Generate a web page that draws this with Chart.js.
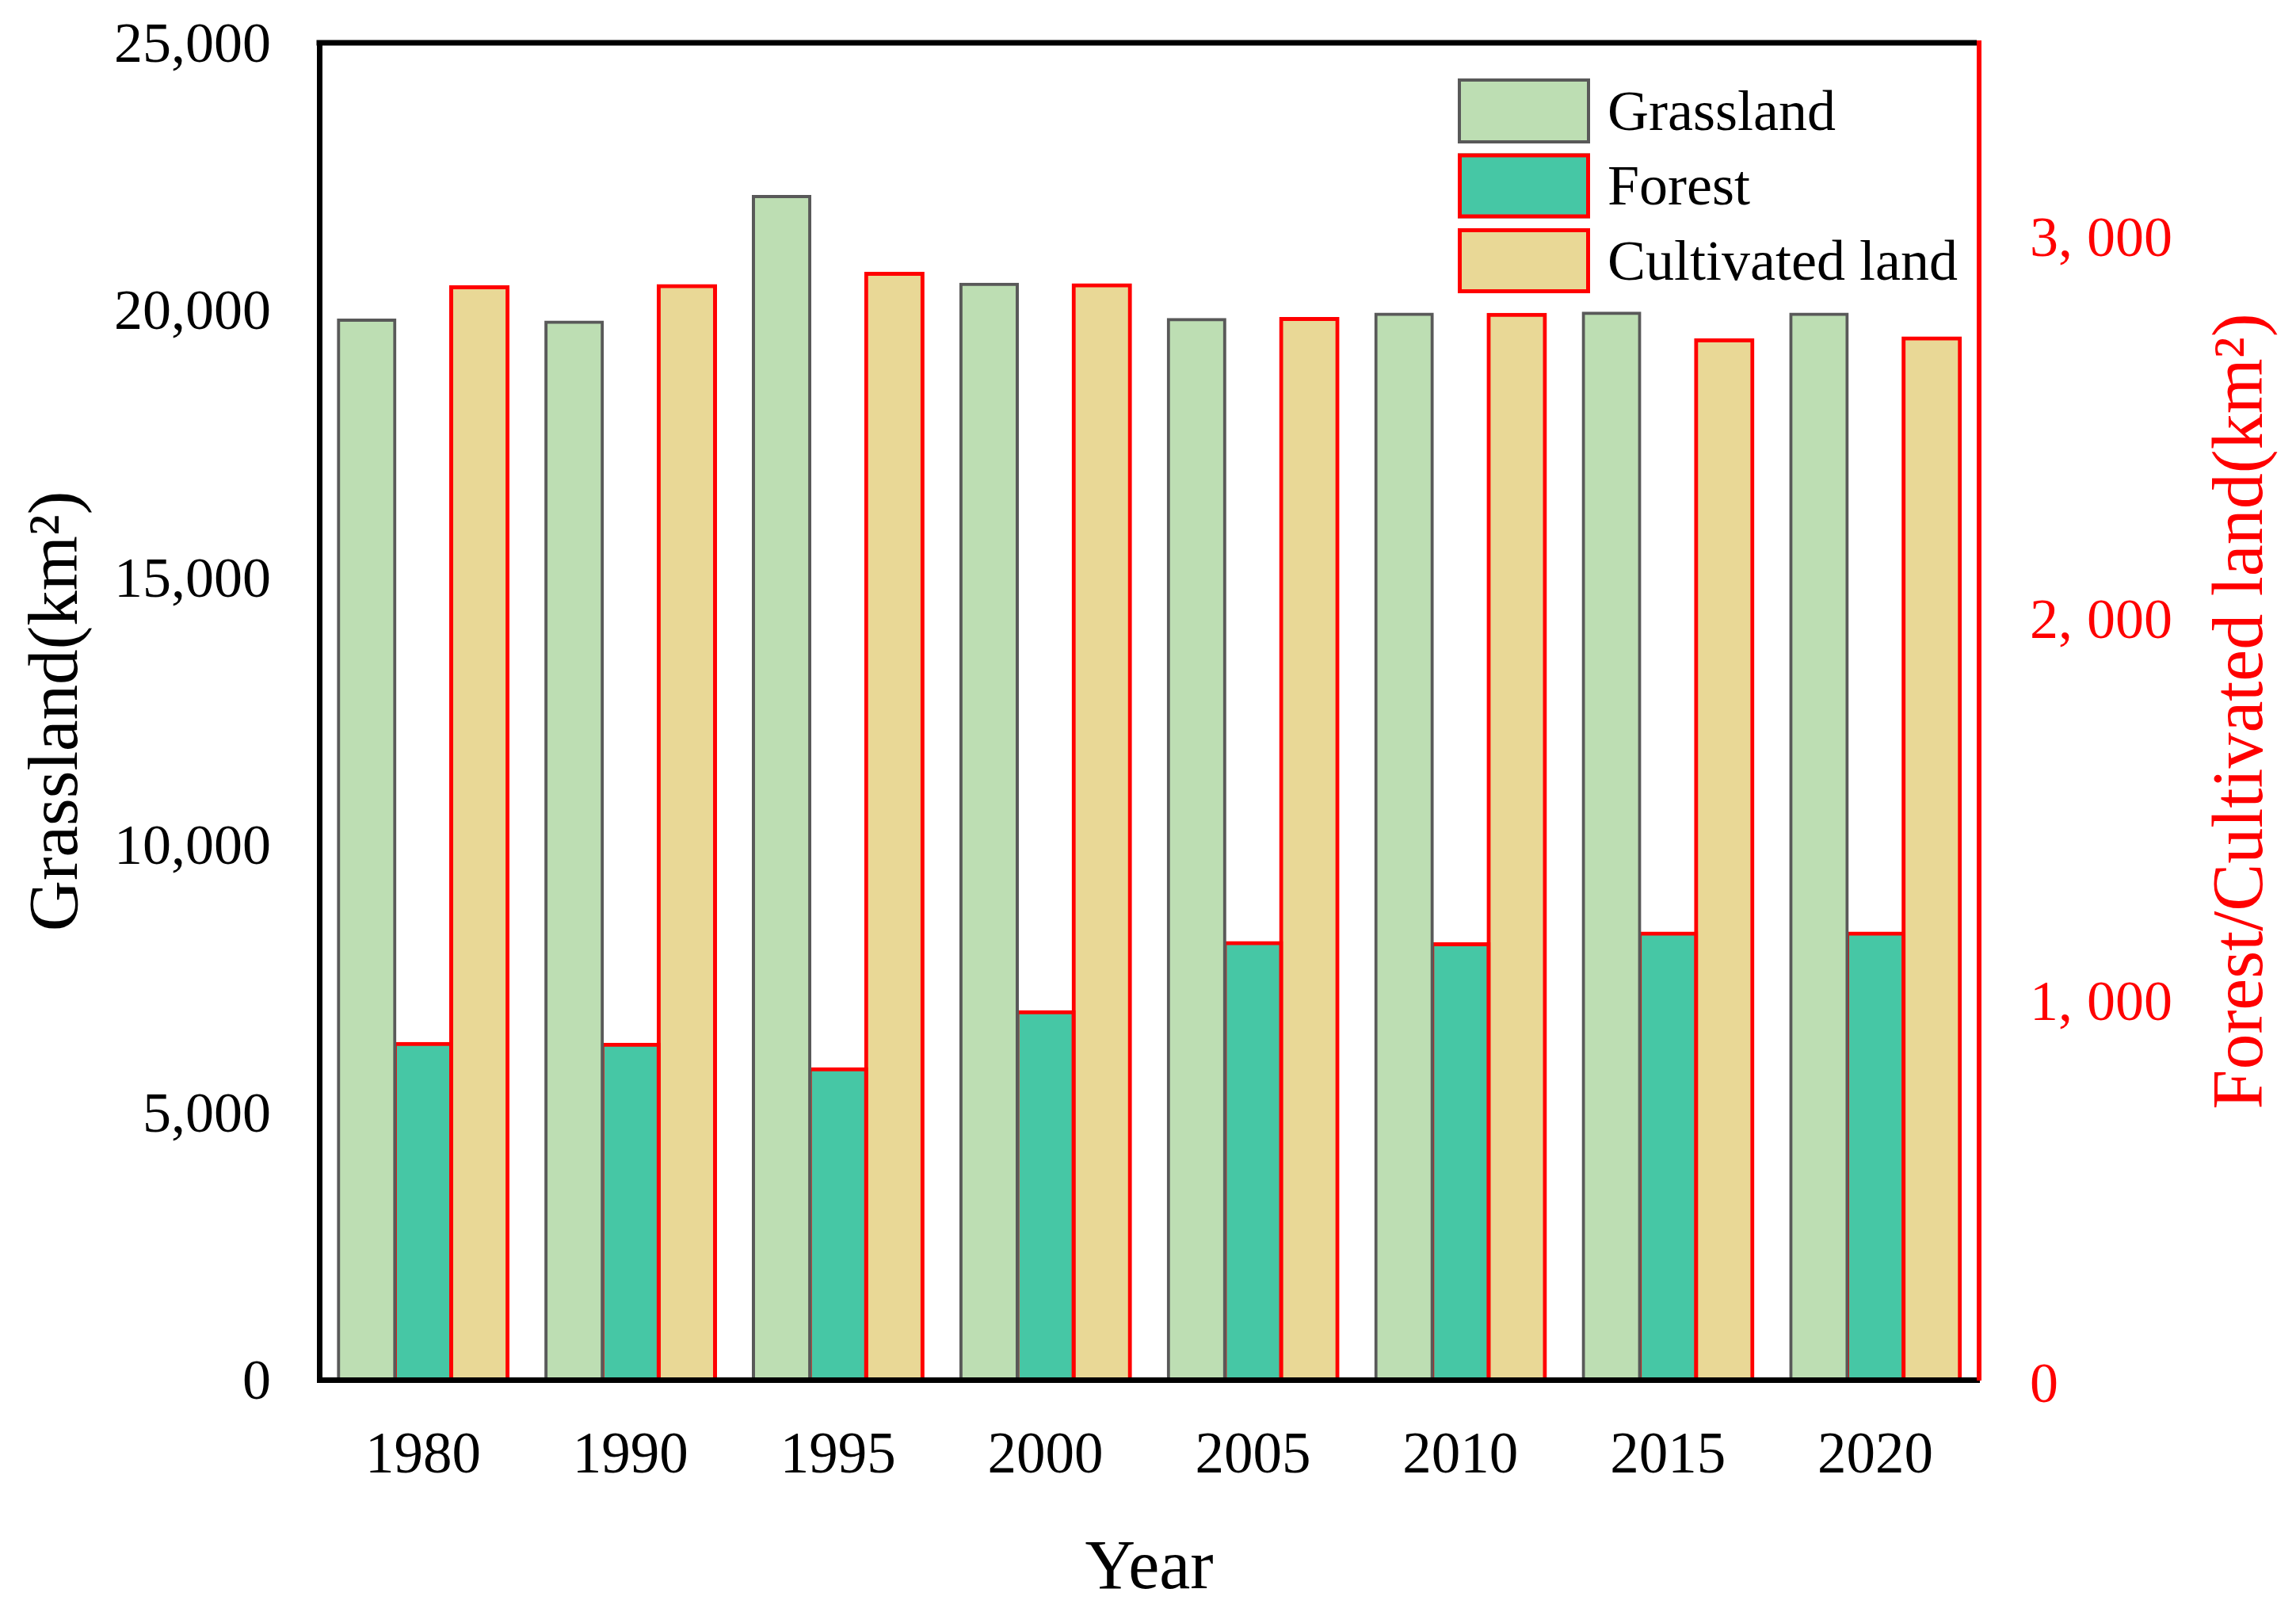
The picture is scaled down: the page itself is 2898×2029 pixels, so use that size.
<!DOCTYPE html>
<html>
<head>
    <title>Grassland, Forest and Cultivated land</title>
    <script src="https://cdn.jsdelivr.net/npm/chart.js"></script>
    <style>
        body { margin: 0; background: #fff; }
    </style>
</head>
<body>
    <canvas id="myChart" width="2898" height="2029" style="width:2898px;height:2029px"></canvas>

    <script>
        var years = ['1980', '1990', '1995', '2000', '2005', '2010', '2015', '2020'];
        var grassland = [19813, 19776, 22125, 20485, 19824, 19923, 19942, 19923];
        var forest = [879, 877, 813, 962, 1143, 1140, 1168, 1168];
        var cultivated = [2860, 2863, 2895, 2865, 2777, 2788, 2721, 2726];
        var leftTicks = [0, 5000, 10000, 15000, 20000, 25000];
        var rightTicks = [0, 1000, 2000, 3000];

        var serif = '"Liberation Serif", "Times New Roman", serif';
        var red = '#ff0000';

        var framePlugin = {
            id: 'frame',
            afterDraw: function (chart) {
                var ctx = chart.ctx;
                var a = chart.chartArea;
                ctx.save();

                // top edge of the frame
                ctx.strokeStyle = '#000';
                ctx.lineWidth = 7;
                ctx.beginPath();
                ctx.moveTo(a.left - 3.5, a.top);
                ctx.lineTo(a.right - 3, a.top);
                ctx.stroke();

                // right axis title, reads bottom to top
                ctx.save();
                ctx.translate(chart.scales.y1.right - 67, (a.top + a.bottom) / 2);
                ctx.rotate(-Math.PI / 2);
                ctx.font = '90px ' + serif;
                ctx.fillStyle = red;
                ctx.textAlign = 'center';
                ctx.textBaseline = 'middle';
                ctx.fillText('Forest/Cultivated land(km\u00b2)', 0, 0);
                ctx.restore();

                // legend inside the plot
                chart.data.datasets.forEach(function (ds, i) {
                    var bx = a.right - 658;
                    var by = a.top + 45 + i * 94.5;
                    var lw = ds.borderWidth;
                    ctx.fillStyle = ds.backgroundColor;
                    ctx.fillRect(bx, by, 167, 82);
                    ctx.strokeStyle = ds.borderColor;
                    ctx.lineWidth = lw;
                    ctx.strokeRect(bx + lw / 2, by + lw / 2, 167 - lw, 82 - lw);
                    ctx.fillStyle = '#000';
                    ctx.font = '72px ' + serif;
                    ctx.textAlign = 'left';
                    ctx.textBaseline = 'middle';
                    ctx.fillText(ds.label, a.right - 469, by + 46);
                });
                ctx.restore();
            }
        };

        function noPadding(scale) {
            scale.paddingTop = 0;
            scale.paddingBottom = 0;
            scale.paddingLeft = 0;
            scale.paddingRight = 0;
        }

        var ctx = document.getElementById('myChart').getContext('2d');
        var myChart = new Chart(ctx, {
            type: 'bar',
            data: {
                labels: years,
                datasets: [
                    {
                        label: 'Grassland',
                        data: grassland,
                        yAxisID: 'y',
                        backgroundColor: '#bddeb3',
                        borderColor: '#595959',
                        borderWidth: 4,
                        inflateAmount: 2
                    },
                    {
                        label: 'Forest',
                        data: forest,
                        yAxisID: 'y1',
                        backgroundColor: '#46c7a5',
                        borderColor: red,
                        borderWidth: 5,
                        inflateAmount: 2.5
                    },
                    {
                        label: 'Cultivated land',
                        data: cultivated,
                        yAxisID: 'y1',
                        backgroundColor: '#e9d896',
                        borderColor: red,
                        borderWidth: 5,
                        inflateAmount: 2.5
                    }
                ]
            },
            options: {
                responsive: false,
                animation: false,
                devicePixelRatio: 1,
                categoryPercentage: 0.815,
                barPercentage: 1,
                layout: { padding: { top: 54, left: 0, right: 0, bottom: 0 } },
                plugins: {
                    legend: { display: false },
                    tooltip: { enabled: false }
                },
                scales: {
                    x: {
                        grid: { display: false, drawTicks: false },
                        border: { display: true, color: '#000', width: 7, z: 1 },
                        ticks: { color: '#000', font: { family: serif, size: 73 }, padding: 54, maxRotation: 0 },
                        title: {
                            display: true, text: 'Year', color: '#000',
                            font: { family: serif, size: 88 }, padding: { top: 0, bottom: -5 }
                        },
                        afterFit: function (scale) { scale.height = 288; noPadding(scale); }
                    },
                    y: {
                        position: 'left',
                        min: 0,
                        max: 25000,
                        grid: { display: false, drawTicks: false },
                        border: { display: true, color: '#000', width: 7, z: 1 },
                        afterBuildTicks: function (scale) {
                            scale.ticks = leftTicks.map(function (v) { return { value: v }; });
                        },
                        ticks: {
                            color: '#000', font: { family: serif, size: 72 }, padding: 61, labelOffset: 5,
                            callback: function (v) { return v.toLocaleString('en-US'); }
                        },
                        title: {
                            display: true, text: 'Grassland(km\u00b2)', color: '#000',
                            font: { family: serif, size: 89 }, padding: { top: 20, bottom: 0 }
                        },
                        afterFit: function (scale) { scale.width = 403; noPadding(scale); }
                    },
                    y1: {
                        position: 'right',
                        min: 0,
                        max: 3500,
                        grid: { display: false, drawTicks: false },
                        border: { display: true, color: red, width: 6, z: 1 },
                        afterBuildTicks: function (scale) {
                            scale.ticks = rightTicks.map(function (v) { return { value: v }; });
                        },
                        ticks: {
                            color: red, font: { family: serif, size: 72 }, padding: 64, labelOffset: 9,
                            callback: function (v) { return v.toLocaleString('en-US').replace(',', ', '); }
                        },
                        afterFit: function (scale) { scale.width = 400; noPadding(scale); }
                    }
                }
            },
            plugins: [framePlugin]
        });
    </script>
</body>
</html>
